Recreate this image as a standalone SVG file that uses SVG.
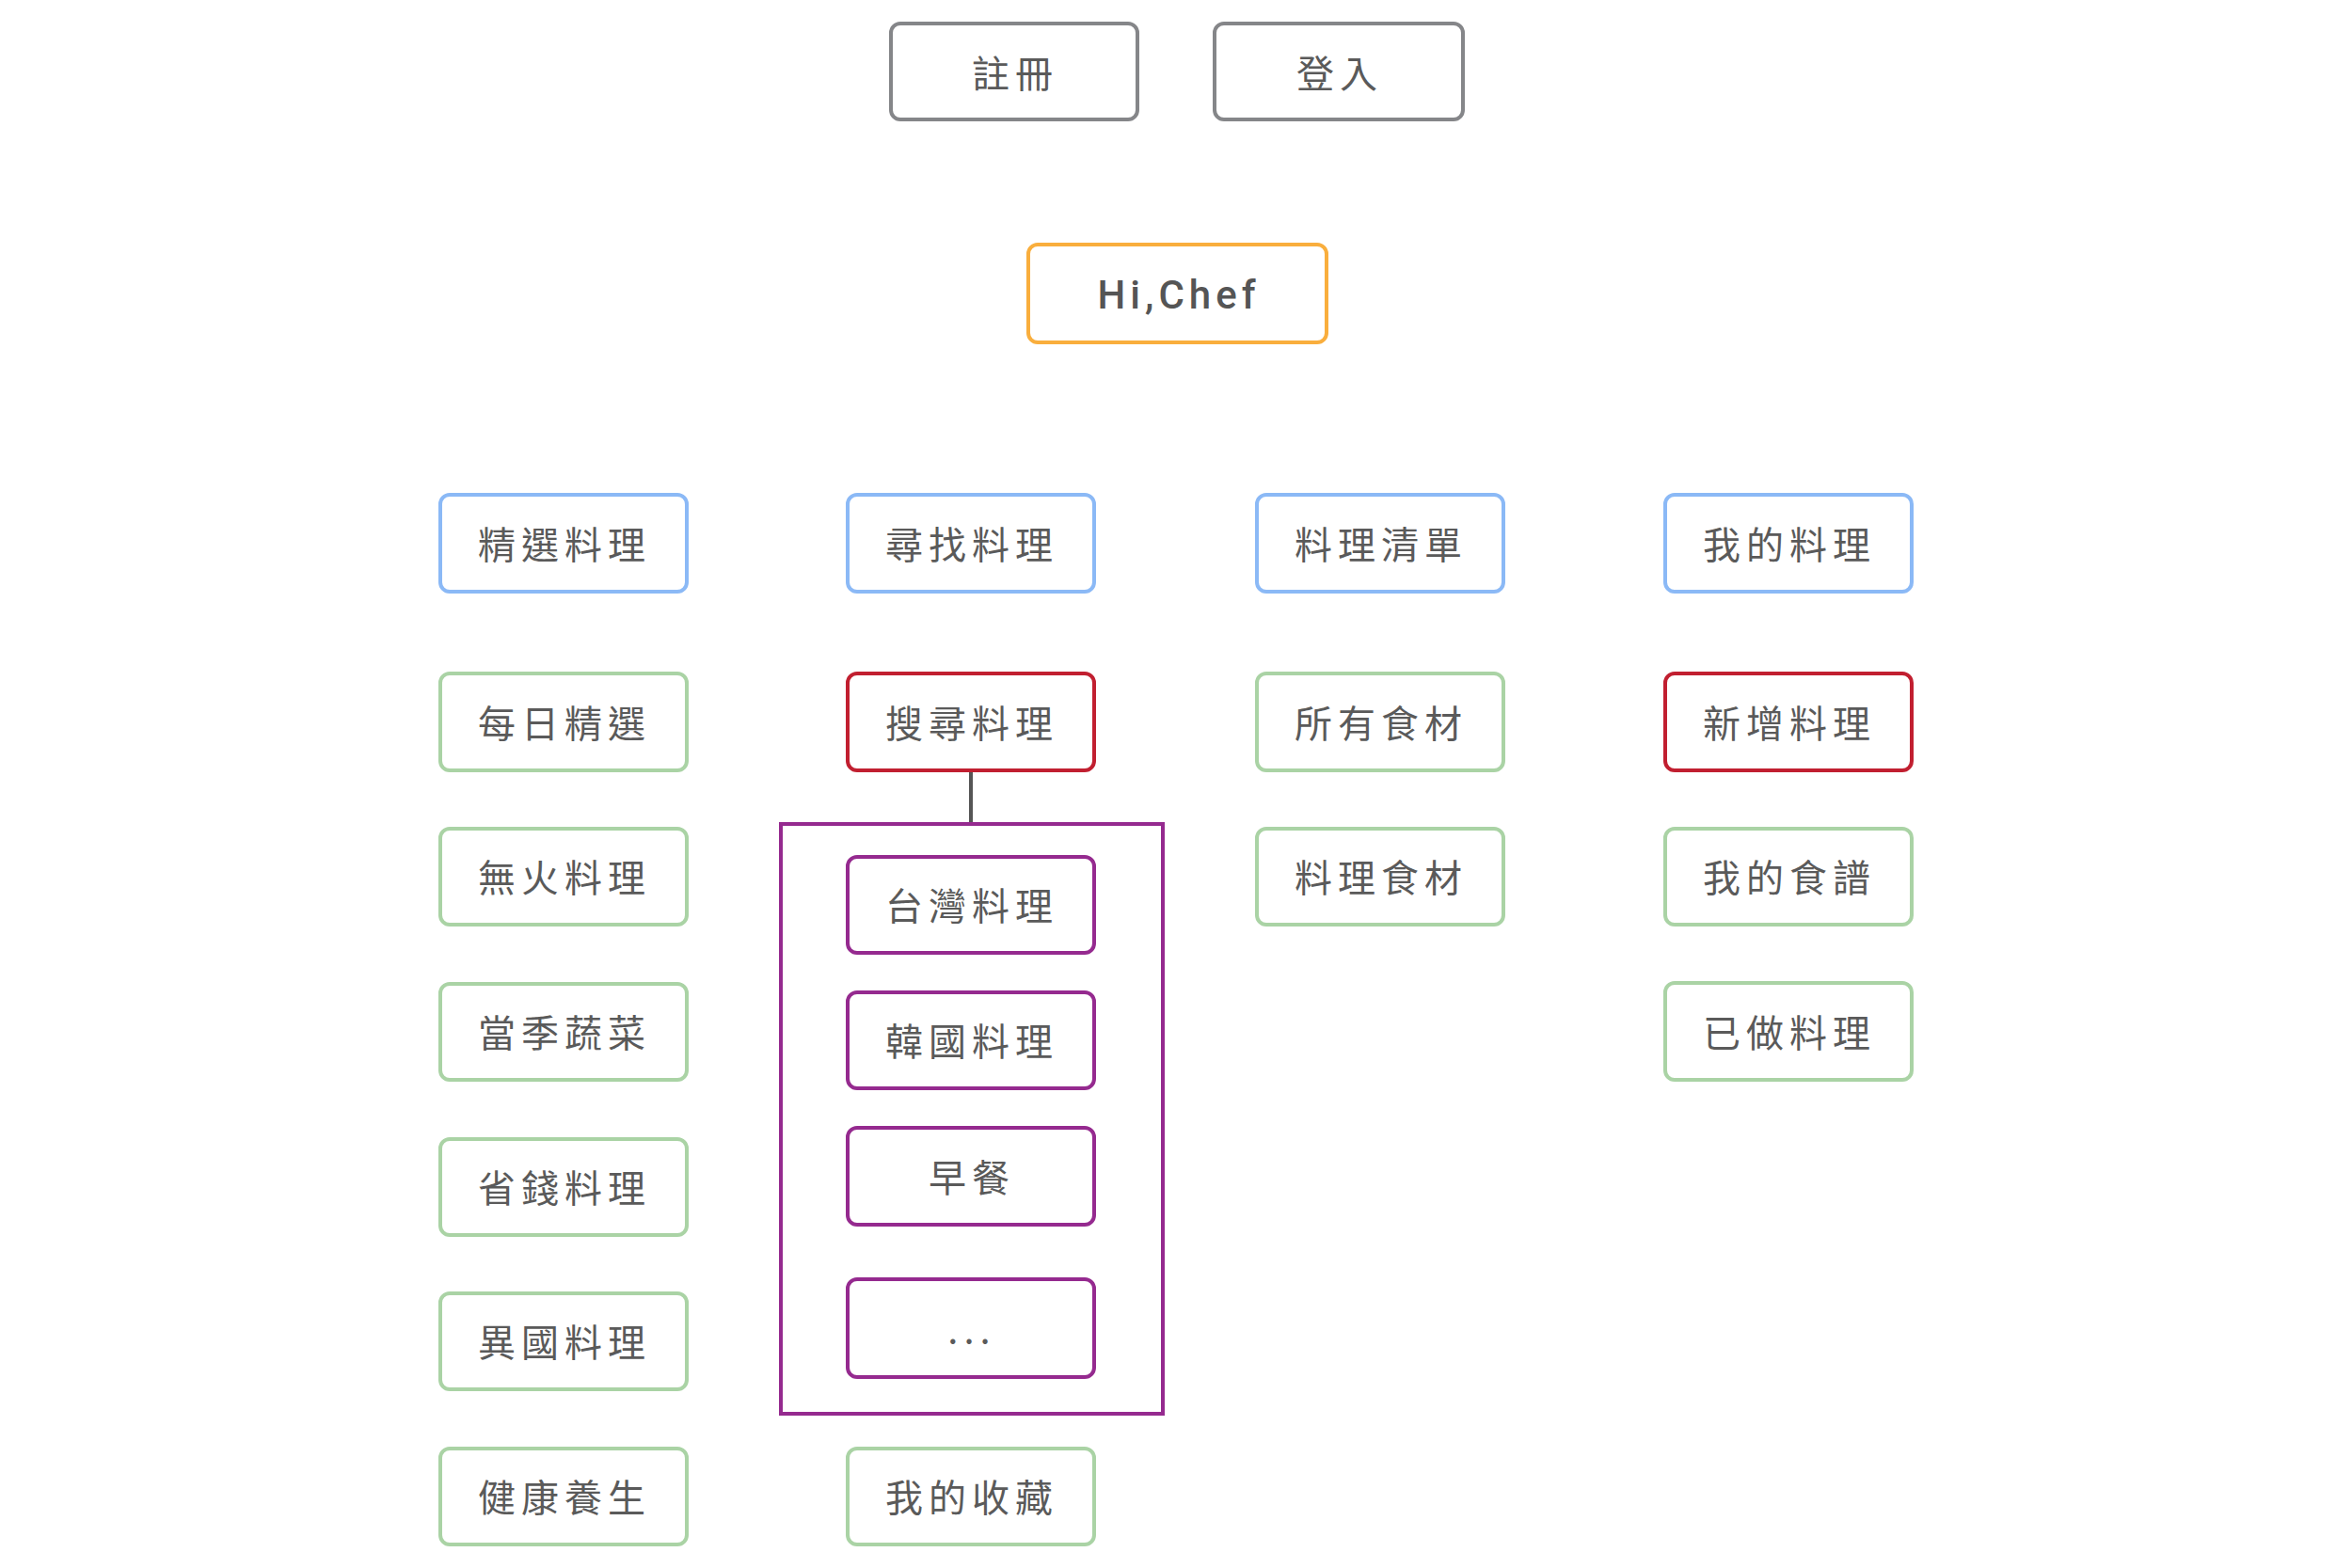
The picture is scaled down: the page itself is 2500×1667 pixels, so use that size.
<svg xmlns="http://www.w3.org/2000/svg" width="2500" height="1667" viewBox="0 0 2500 1667">
<style>
.box{fill:#fff;stroke-width:4}
.gray{stroke:#858689}
.orange{stroke:#F9AE3D}
.blue{stroke:#8BB9F6}
.green{stroke:#AAD3A5}
.red{stroke:#C11F30}
.purple{stroke:#952A8F}
.t{font-family:"Noto Sans CJK TC","Noto Sans",sans-serif;font-size:40px;fill:#5a5a5a;text-anchor:middle;letter-spacing:6px}
.en{font-family:Roboto,"Liberation Sans",Arial,sans-serif;font-weight:500;font-size:42px;fill:#555;text-anchor:middle;letter-spacing:5px}
.conn{stroke:#555;stroke-width:4;fill:none}
</style>
<rect width="2500" height="1667" fill="#fff"/>
<g id="connectors">
<line class="conn" x1="1032" y1="821" x2="1032" y2="875"/>
</g>
<g id="group-search">
<rect class="purple" x="830" y="876" width="406" height="627" fill="none" stroke-width="4"/>
</g>
<g id="register"><rect class="box gray" x="947" y="25" width="262" height="102" rx="10"/><text class="t" x="1079" y="93">註冊</text></g>
<g id="login"><rect class="box gray" x="1291" y="25" width="264" height="102" rx="10"/><text class="t" x="1424" y="93">登入</text></g>
<g id="hichef"><rect class="box orange" x="1093" y="260" width="317" height="104" rx="10"/><text class="en" x="1253" y="328">Hi,Chef</text></g>

<g id="featured"><rect class="box blue" x="468" y="526" width="262" height="103" rx="10"/><text class="t" x="600" y="594">精選料理</text></g>
<g id="find"><rect class="box blue" x="901" y="526" width="262" height="103" rx="10"/><text class="t" x="1033" y="594">尋找料理</text></g>
<g id="list"><rect class="box blue" x="1336" y="526" width="262" height="103" rx="10"/><text class="t" x="1468" y="594">料理清單</text></g>
<g id="mine"><rect class="box blue" x="1770" y="526" width="262" height="103" rx="10"/><text class="t" x="1902" y="594">我的料理</text></g>

<g id="daily"><rect class="box green" x="468" y="716" width="262" height="103" rx="10"/><text class="t" x="600" y="784">每日精選</text></g>
<g id="nofire"><rect class="box green" x="468" y="881" width="262" height="102" rx="10"/><text class="t" x="600" y="948">無火料理</text></g>
<g id="season"><rect class="box green" x="468" y="1046" width="262" height="102" rx="10"/><text class="t" x="600" y="1113">當季蔬菜</text></g>
<g id="save"><rect class="box green" x="468" y="1211" width="262" height="102" rx="10"/><text class="t" x="600" y="1278">省錢料理</text></g>
<g id="foreign"><rect class="box green" x="468" y="1375" width="262" height="102" rx="10"/><text class="t" x="600" y="1442">異國料理</text></g>
<g id="health"><rect class="box green" x="468" y="1540" width="262" height="102" rx="10"/><text class="t" x="600" y="1607">健康養生</text></g>

<g id="search"><rect class="box red" x="901" y="716" width="262" height="103" rx="10"/><text class="t" x="1033" y="784">搜尋料理</text></g>
<g id="taiwan"><rect class="box purple" x="901" y="911" width="262" height="102" rx="10"/><text class="t" x="1033" y="978">台灣料理</text></g>
<g id="korea"><rect class="box purple" x="901" y="1055" width="262" height="102" rx="10"/><text class="t" x="1033" y="1122">韓國料理</text></g>
<g id="breakfast"><rect class="box purple" x="901" y="1199" width="262" height="103" rx="10"/><text class="t" x="1033" y="1267">早餐</text></g>
<g id="more"><rect class="box purple" x="901" y="1360" width="262" height="104" rx="10"/><text class="t" x="1033" y="1428">...</text></g>
<g id="favorite"><rect class="box green" x="901" y="1540" width="262" height="102" rx="10"/><text class="t" x="1033" y="1607">我的收藏</text></g>

<g id="allingredients"><rect class="box green" x="1336" y="716" width="262" height="103" rx="10"/><text class="t" x="1468" y="784">所有食材</text></g>
<g id="recipeingredients"><rect class="box green" x="1336" y="881" width="262" height="102" rx="10"/><text class="t" x="1468" y="948">料理食材</text></g>

<g id="add"><rect class="box red" x="1770" y="716" width="262" height="103" rx="10"/><text class="t" x="1902" y="784">新增料理</text></g>
<g id="myrecipes"><rect class="box green" x="1770" y="881" width="262" height="102" rx="10"/><text class="t" x="1902" y="948">我的食譜</text></g>
<g id="done"><rect class="box green" x="1770" y="1045" width="262" height="103" rx="10"/><text class="t" x="1902" y="1113">已做料理</text></g>
</svg>
